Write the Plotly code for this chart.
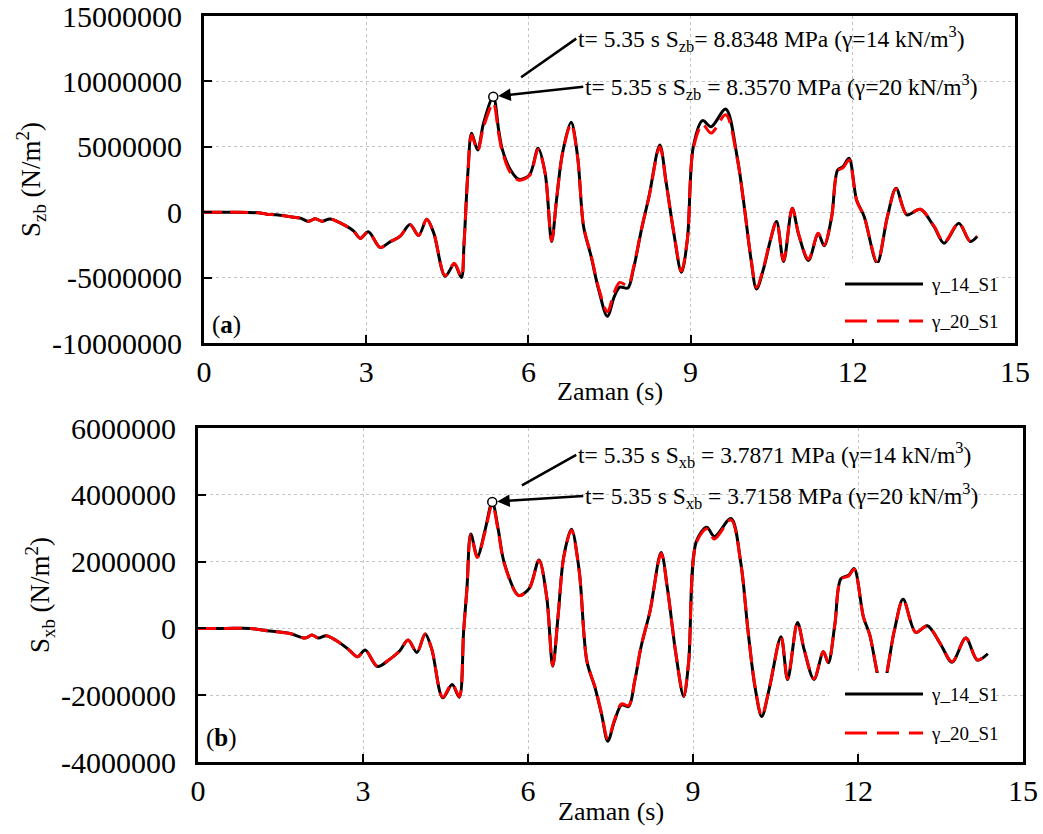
import plotly.graph_objects as go

# ---------------- data (stress values in MPa, time in s) ----------------
t_zb = [0, 0.5, 1.0, 1.16, 1.34, 1.6, 1.78, 1.93, 2.06, 2.18, 2.33, 2.52, 2.77, 2.89, 3.04,
        3.26, 3.44, 3.63, 3.81, 3.97, 4.12, 4.25, 4.46, 4.63, 4.76, 4.81, 4.88, 4.95, 5.06,
        5.17, 5.35, 5.45, 5.52, 5.67, 5.82, 6.02, 6.18, 6.31, 6.43, 6.52, 6.63, 6.79, 6.91,
        7.02, 7.16, 7.30, 7.46, 7.59, 7.69, 7.84, 7.94, 8.09, 8.23, 8.43, 8.55, 8.69, 8.83,
        8.94, 9.05, 9.22, 9.38, 9.65, 9.86, 10.0, 10.11, 10.22, 10.36, 10.47, 10.59, 10.72,
        10.88, 11.0, 11.18, 11.36, 11.47, 11.61, 11.72, 11.82, 11.93, 12.07, 12.21, 12.45,
        12.64, 12.8, 13.0, 13.25, 13.5, 13.69, 13.96, 14.17, 14.3]
szb_g14 = [0, 0, -0.05, -0.15, -0.2, -0.35, -0.45, -0.7, -0.5, -0.7, -0.52, -0.82, -1.45, -2.0, -1.5,
           -2.7, -2.27, -1.83, -0.94, -1.78, -0.53, -1.6, -4.9, -3.97, -5.0, -2.37, 2.98, 6.03, 4.76,
           6.8, 8.8348, 6.28, 4.76, 3.23, 2.52, 2.85, 4.89, 2.98, -2.24, 0.94, 4.5, 6.87, 4.25,
           -1.09, -3.38, -5.93, -7.96, -6.44, -5.73, -5.8, -4.4, -1.35, 1.2, 5.14, 2.21, -1.6, -4.6,
           -2.11, 5.0, 7.0, 6.54, 7.89, 4.25, 0.18, -3.38, -5.88, -4.15, -2.24, -0.71, -3.77,
           0.3, -1.73, -3.69, -1.65, -2.57, -0.33, 3.23, 3.49, 4.12, 0.94, -0.33, -3.89,
           -0.33, 1.83, -0.2, 0.23, -1.09, -2.37, -0.84, -2.24, -1.86]
szb_g20 = [0, 0, -0.05, -0.15, -0.2, -0.35, -0.45, -0.7, -0.5, -0.7, -0.52, -0.82, -1.45, -2.0, -1.5,
           -2.7, -2.27, -1.83, -0.94, -1.78, -0.53, -1.6, -4.85, -3.9, -4.95, -2.37, 2.9, 5.9, 4.7,
           6.5, 8.3570, 6.0, 4.6, 3.0, 2.45, 2.8, 4.8, 2.95, -2.2, 0.94, 4.45, 6.75, 4.2,
           -1.05, -3.3, -5.8, -7.6, -6.1, -5.37, -5.6, -4.3, -1.3, 1.15, 5.0, 2.15, -1.55, -4.5,
           -2.05, 4.85, 6.7, 6.05, 7.45, 4.15, 0.18, -3.3, -5.75, -4.05, -2.2, -0.7, -3.7,
           0.3, -1.7, -3.6, -1.6, -2.5, -0.33, 3.15, 3.4, 4.0, 0.9, -0.33, -3.8,
           -0.33, 1.8, -0.2, 0.22, -1.05, -2.3, -0.82, -2.2, -1.82]

t_xb = [0, 0.5, 0.95, 1.25, 1.67, 1.95, 2.07, 2.19, 2.33, 2.52, 2.73, 2.9, 3.04, 3.26, 3.49,
        3.67, 3.82, 3.98, 4.13, 4.25, 4.45, 4.62, 4.75, 4.83, 4.89, 4.96, 5.08, 5.22, 5.35,
        5.46, 5.57, 5.83, 6.02, 6.2, 6.34, 6.45, 6.55, 6.65, 6.79, 6.93, 7.07, 7.22, 7.34,
        7.45, 7.57, 7.70, 7.83, 7.94, 8.06, 8.22, 8.42, 8.54, 8.69, 8.83, 8.92, 9.06, 9.25,
        9.39, 9.69, 9.87, 10.0, 10.13, 10.25, 10.39, 10.6, 10.72, 10.9, 11.02, 11.2, 11.37,
        11.46, 11.58, 11.69, 11.83, 11.93, 12.1, 12.21, 12.44, 12.66, 12.82, 13.05, 13.26,
        13.5, 13.71, 13.96, 14.17, 14.36]
sxb_g14 = [0, 0, 0, -0.07, -0.15, -0.29, -0.2, -0.29, -0.22, -0.37, -0.62, -0.85, -0.65, -1.14, -0.92,
           -0.67, -0.35, -0.72, -0.17, -0.62, -2.08, -1.68, -2.06, -0.07, 1.2, 2.83, 2.15, 2.95, 3.7871,
           2.95, 1.95, 0.99, 1.19, 2.05, 0.94, -1.13, 0.43, 2.15, 2.97, 1.74, -0.98, -1.78, -2.59,
           -3.38, -2.79, -2.29, -2.34, -1.58, -0.52, 0.53, 2.27, 1.14, -0.78, -2.04, -1.03, 2.6, 3.03,
           2.75, 3.29, 1.95, -0.07, -1.78, -2.64, -1.78, -0.25, -1.53, 0.18, -0.63, -1.53, -0.7,
           -1.03, 0.13, 1.49, 1.59, 1.79, 0.33, -0.17, -1.8, -0.07, 0.87, -0.12, 0.08,
           -0.47, -1.01, -0.29, -0.95, -0.76]
sxb_g20 = [0, 0, 0, -0.07, -0.15, -0.29, -0.2, -0.29, -0.22, -0.37, -0.62, -0.85, -0.65, -1.13, -0.92,
           -0.67, -0.35, -0.72, -0.17, -0.62, -2.06, -1.66, -2.04, -0.07, 1.18, 2.8, 2.12, 2.9, 3.7158,
           2.9, 1.93, 0.98, 1.18, 2.03, 0.93, -1.12, 0.43, 2.12, 2.94, 1.72, -0.97, -1.76, -2.56,
           -3.32, -2.75, -2.26, -2.31, -1.56, -0.51, 0.52, 2.24, 1.12, -0.77, -2.02, -1.02, 2.56, 2.98,
           2.68, 3.25, 1.93, -0.07, -1.76, -2.62, -1.76, -0.25, -1.51, 0.18, -0.62, -1.51, -0.69,
           -1.02, 0.13, 1.47, 1.57, 1.77, 0.33, -0.17, -1.78, -0.07, 0.86, -0.12, 0.08,
           -0.46, -1.0, -0.29, -0.94, -0.75]

peak_t = 5.35
peak_zb = [8.8348, 8.3570]
peak_xb = [3.7871, 3.7158]

series_names = ["γ_14_S1", "γ_20_S1"]
x_ticks = [0, 3, 6, 9, 12, 15]
zb_ticks = [-10000000, -5000000, 0, 5000000, 10000000, 15000000]
xb_ticks = [-4000000, -2000000, 0, 2000000, 4000000, 6000000]

ann_zb = ["t= 5.35 s S<sub>zb</sub>= 8.8348 MPa (γ=14 kN/m<sup>3</sup>)",
          "t= 5.35 s S<sub>zb</sub> = 8.3570 MPa (γ=20 kN/m<sup>3</sup>)"]
ann_xb = ["t= 5.35 s S<sub>xb</sub> = 3.7871 MPa (γ=14 kN/m<sup>3</sup>)",
          "t= 5.35 s S<sub>xb</sub> = 3.7158 MPa (γ=20 kN/m<sup>3</sup>)"]

FONT = "Liberation Serif"
W, H = 1043, 834


def mpa(vals):
    return [v * 1e6 for v in vals]


fig = go.Figure()

# top panel
fig.add_trace(go.Scatter(x=t_zb, y=mpa(szb_g14), mode="lines", name=series_names[0],
                         line=dict(color="black", width=3, shape="spline", smoothing=0.9),
                         xaxis="x", yaxis="y"))
fig.add_trace(go.Scatter(x=t_zb, y=mpa(szb_g20), mode="lines", name=series_names[1],
                         line=dict(color="#ff0000", width=3, dash="18px,8px", shape="spline", smoothing=0.9),
                         xaxis="x", yaxis="y"))
fig.add_trace(go.Scatter(x=[peak_t], y=[mpa(peak_zb)[0]], mode="markers", showlegend=False,
                         marker=dict(symbol="circle", size=9, color="white", line=dict(color="black", width=1.5)),
                         xaxis="x", yaxis="y"))
# bottom panel
fig.add_trace(go.Scatter(x=t_xb, y=mpa(sxb_g14), mode="lines", name=series_names[0],
                         line=dict(color="black", width=3, shape="spline", smoothing=0.9),
                         xaxis="x2", yaxis="y2"))
fig.add_trace(go.Scatter(x=t_xb, y=mpa(sxb_g20), mode="lines", name=series_names[1],
                         line=dict(color="#ff0000", width=3, dash="18px,8px", shape="spline", smoothing=0.9),
                         xaxis="x2", yaxis="y2"))
fig.add_trace(go.Scatter(x=[peak_t], y=[mpa(peak_xb)[0]], mode="markers", showlegend=False,
                         marker=dict(symbol="circle", size=9, color="white", line=dict(color="black", width=1.5)),
                         xaxis="x2", yaxis="y2"))

axis_common = dict(showline=True, linecolor="black", linewidth=3, mirror=True,
                   ticks="inside", ticklen=8, tickwidth=2, tickcolor="black",
                   showgrid=True, gridcolor="#c4c4c4", gridwidth=1, griddash="dot",
                   zeroline=False, automargin=False, ticklabeloverflow="allow",
                   tickfont=dict(family=FONT, size=30, color="black"))

fig.update_layout(
    width=W, height=H, margin=dict(l=0, r=0, t=0, b=0),
    paper_bgcolor="white", plot_bgcolor="white", showlegend=False,
    font=dict(family=FONT, color="black"),
    xaxis=dict(domain=[204 / W, 1015 / W], anchor="y", range=[0, 15],
               tickvals=x_ticks, ticktext=[str(v) for v in x_ticks], ticklabelstandoff=0, **axis_common),
    yaxis=dict(domain=[(H - 343) / H, (H - 16) / H], anchor="x", range=[zb_ticks[0], zb_ticks[-1]],
               tickvals=zb_ticks, ticktext=[str(v) for v in zb_ticks], ticklabelstandoff=13,
               title=dict(text="S<sub>zb</sub> (N/m<sup>2</sup>)", font=dict(family=FONT, size=27), standoff=4),
               **axis_common),
    xaxis2=dict(domain=[198 / W, 1023 / W], anchor="y2", range=[0, 15],
                tickvals=x_ticks, ticktext=[str(v) for v in x_ticks], ticklabelstandoff=0, **axis_common),
    yaxis2=dict(domain=[(H - 762) / H, (H - 428) / H], anchor="x2", range=[xb_ticks[0], xb_ticks[-1]],
                tickvals=xb_ticks, ticktext=[str(v) for v in xb_ticks], ticklabelstandoff=13,
                title=dict(text="S<sub>xb</sub> (N/m<sup>2</sup>)", font=dict(family=FONT, size=27), standoff=4),
                **axis_common),
)

annotations = []
# x-axis titles
for xr, ypix in (("x domain", 392), ("x2 domain", 811)):
    annotations.append(dict(text="Zaman (s)", xref=xr, yref="paper", x=0.5, y=(H - ypix) / H,
                            xanchor="center", yanchor="middle", showarrow=False,
                            font=dict(family=FONT, size=26, color="black")))
# panel labels
annotations.append(dict(text="(<b>a</b>)", xref="paper", yref="paper", x=210 / W, y=(H - 325) / H,
                        xanchor="left", yanchor="middle", showarrow=False,
                        font=dict(family=FONT, size=25, color="black")))
annotations.append(dict(text="(<b>b</b>)", xref="paper", yref="paper", x=204 / W, y=(H - 738) / H,
                        xanchor="left", yanchor="middle", showarrow=False,
                        font=dict(family=FONT, size=25, color="black")))

# callouts to peak points
ann_font = dict(family=FONT, size=23.5, color="black")
for xr, yr, peak, texts, offs in (
        ("x", "y", peak_zb[0], ann_zb, [(83, -58), (90, -10)]),
        ("x2", "y2", peak_xb[0], ann_xb, [(84, -47), (91, -6)])):
    annotations.append(dict(text=texts[0], xref=xr, yref=yr, x=peak_t, y=peak * 1e6,
                            ax=offs[0][0], ay=offs[0][1], xanchor="left", yanchor="middle",
                            showarrow=True, arrowhead=0, arrowwidth=2.5, arrowcolor="black",
                            standoff=34, font=ann_font))
    annotations.append(dict(text=texts[1], xref=xr, yref=yr, x=peak_t, y=peak * 1e6,
                            ax=offs[1][0], ay=offs[1][1], xanchor="left", yanchor="middle",
                            showarrow=True, arrowhead=2, arrowsize=1, arrowwidth=2.5, arrowcolor="black",
                            standoff=5, font=ann_font))

# legend boxes (drawn above the curves, as in the original)
shapes = []
leg_font = dict(family=FONT, size=19, color="black")
for top, l1, l2 in ((263, 284, 321), (673, 694, 733)):
    shapes.append(dict(type="rect", xref="paper", yref="paper", layer="above",
                       x0=829 / W, x1=994 / W, y0=(H - (top + 76)) / H, y1=(H - top) / H,
                       fillcolor="white", line=dict(width=0)))
    shapes.append(dict(type="line", xref="paper", yref="paper", layer="above",
                       x0=845 / W, x1=923 / W, y0=(H - l1) / H, y1=(H - l1) / H,
                       line=dict(color="black", width=3)))
    shapes.append(dict(type="line", xref="paper", yref="paper", layer="above",
                       x0=845 / W, x1=923 / W, y0=(H - l2) / H, y1=(H - l2) / H,
                       line=dict(color="#ff0000", width=3, dash="22px,10px")))
    annotations.append(dict(text=series_names[0], xref="paper", yref="paper", x=929 / W, y=(H - l1) / H,
                            xanchor="left", yanchor="middle", showarrow=False, font=leg_font))
    annotations.append(dict(text=series_names[1], xref="paper", yref="paper", x=929 / W, y=(H - l2) / H,
                            xanchor="left", yanchor="middle", showarrow=False, font=leg_font))

fig.update_layout(annotations=annotations, shapes=shapes)
fig.write_html("out.html")
